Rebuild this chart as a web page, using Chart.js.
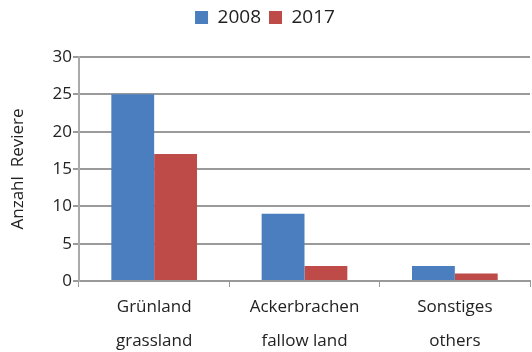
<!DOCTYPE html>
<html>
<head>
<meta charset="utf-8">
<script src="https://cdn.jsdelivr.net/npm/chart.js@4"></script>
<style>
  body { margin: 0; background: #fff; }
  #wrap { width: 532px; height: 352px; }
</style>
</head>
<body>
<div id="wrap"><canvas id="chart" width="532" height="352"></canvas></div>
<script>
// Daten
const categories = [["Grünland", "grassland"], ["Ackerbrachen", "fallow land"], ["Sonstiges", "others"]];
const series_names = ["2008", "2017"];
const values_2008 = [25, 9, 2];
const values_2017 = [17, 2, 1];
const y_ticks = [0, 5, 10, 15, 20, 25, 30];

const font_family = "'Open Sans', sans-serif";

// Legende etwas höher machen, damit die Zeichenfläche tiefer beginnt
const legend_space = {
    id: "legend_space",
    beforeInit: function (chart) {
        const fit = chart.legend.fit;
        chart.legend.fit = function () {
            fit.bind(chart.legend)();
            this.height += 20;
        };
    }
};

const ctx = document.getElementById("chart").getContext("2d");
const myChart = new Chart(ctx, {
    type: "bar",
    data: {
        labels: categories,
        datasets: [
            { label: series_names[0], data: values_2008, backgroundColor: "#4a7ebf", borderWidth: 0 },
            { label: series_names[1], data: values_2017, backgroundColor: "#be4b48", borderWidth: 0 }
        ]
    },
    plugins: [legend_space],
    options: {
        responsive: false,
        animation: false,
        layout: { padding: { top: 0, right: 2, left: 0, bottom: 0 } },
        plugins: {
            legend: {
                position: "top",
                labels: {
                    boxWidth: 13, boxHeight: 13,
                    color: "#222",
                    font: { family: font_family, size: 19 },
                    padding: 8
                }
            },
            tooltip: { enabled: false }
        },
        datasets: { bar: { categoryPercentage: 0.57, barPercentage: 1.0 } },
        scales: {
            x: {
                grid: {
                    offset: true,
                    drawOnChartArea: false,
                    drawTicks: true,
                    tickLength: 6,
                    color: "#999",
                    lineWidth: 1
                },
                border: { color: "#999", width: 2 },
                ticks: {
                    color: "#222",
                    font: { family: font_family, size: 17, lineHeight: 1.95 },
                    padding: 4
                },
                afterFit: function (scale) { scale.height = 71; }
            },
            y: {
                min: 0, max: 30,
                afterBuildTicks: function (scale) {
                    scale.ticks = y_ticks.map(v => ({ value: v }));
                },
                grid: {
                    color: "#9a9a9a",
                    lineWidth: 2,
                    tickLength: 6
                },
                border: { color: "#aaa", width: 2 },
                ticks: {
                    color: "#222",
                    font: { family: font_family, size: 17 },
                    padding: 1
                },
                title: {
                    display: true,
                    text: "Anzahl  Reviere",
                    color: "#222",
                    font: { family: font_family, size: 17 },
                    padding: { top: 8, bottom: 8 }
                },
                afterFit: function (scale) { scale.width = 79; }
            }
        }
    }
});
</script>
</body>
</html>
